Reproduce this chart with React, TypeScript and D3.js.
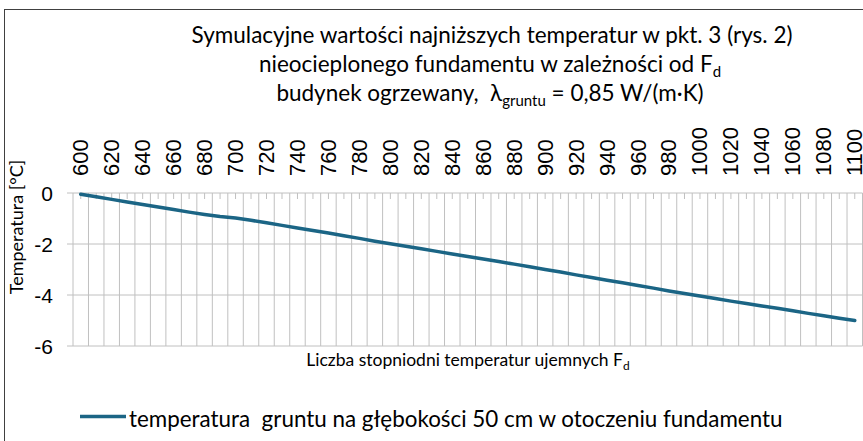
import * as d3 from 'd3';
import React from 'react';

// Fd categories (step 10) and simulated lowest ground temperature [°C]
const fdCategories = [
  600, 610, 620, 630, 640, 650, 660, 670, 680, 690, 700, 710, 720, 730, 740, 750, 760,
  770, 780, 790, 800, 810, 820, 830, 840, 850, 860, 870, 880, 890, 900, 910, 920, 930,
  940, 950, 960, 970, 980, 990, 1000, 1010, 1020, 1030, 1040, 1050, 1060, 1070, 1080,
  1090, 1100,
];
const groundTemps = [
  -0.05, -0.15, -0.25, -0.35, -0.45, -0.55, -0.65, -0.75, -0.84, -0.92, -0.98, -1.07,
  -1.17, -1.27, -1.37, -1.47, -1.57, -1.68, -1.78, -1.89, -1.99, -2.09, -2.19, -2.29,
  -2.39, -2.49, -2.59, -2.69, -2.79, -2.89, -3.0, -3.1, -3.21, -3.31, -3.42, -3.52,
  -3.63, -3.73, -3.84, -3.94, -4.04, -4.14, -4.24, -4.33, -4.43, -4.52, -4.62, -4.72,
  -4.81, -4.91, -5.0,
];
const fdTickLabels = [
  600, 620, 640, 660, 680, 700, 720, 740, 760, 780, 800, 820, 840, 860, 880, 900, 920,
  940, 960, 980, 1000, 1020, 1040, 1060, 1080, 1100,
];
const tempTicks = [0, -2, -4, -6];

const seriesName = 'temperatura  gruntu na głębokości 50 cm w otoczeniu fundamentu';

const W = 863;
const H = 441;
const plot = { left: 73, right: 862.5, top: 193, bottom: 346 };
const lineColor = '#1b6585';
const gridColor = '#c0c0c0';
const labelFont = '"Liberation Sans", Arial, sans-serif';
const titleFont = 'Lato, "Open Sans", sans-serif';

export default function App() {
  const x = d3.scaleBand<number>().domain(fdCategories).range([plot.left, plot.right]);
  const y = d3.scaleLinear().domain([-6, 0]).range([plot.bottom, plot.top]);
  const cx = (c: number) => (x(c) as number) + x.bandwidth() / 2;

  const line = d3
    .line<number>()
    .x((_, i) => cx(fdCategories[i]))
    .y(d => y(d));

  const boundaries = fdCategories.map(c => x(c) as number).concat([plot.right]);

  return (
    <svg
      width={W}
      height={H}
      style={{ position: 'absolute', left: 0, top: 0, background: '#fff' }}
    >
      <rect x={0} y={0} width={W} height={H} fill="#fff" />
      <rect x={4.5} y={9.5} width={900} height={500} fill="none" stroke="#404040" />

      {/* title */}
      <g fontFamily={titleFont} fontSize={22.5} fill="#000" textAnchor="middle">
        <text x={492} y={43}>
          Symulacyjne wartości najniższych temperatur w pkt. 3 (rys. 2)
        </text>
        <text x={490} y={72}>
          nieocieplonego fundamentu w zależności od F
          <tspan fontSize={15} dy={5}>d</tspan>
        </text>
        <text x={490} y={101} style={{ whiteSpace: 'pre' }}>
          {'budynek ogrzewany,  λ'}
          <tspan fontSize={15} dy={5}>gruntu</tspan>
          <tspan dy={-5}>{' = 0,85 W/(m·K)'}</tspan>
        </text>
      </g>

      {/* horizontal gridlines */}
      {tempTicks.map(t => (
        <line
          key={'h' + t}
          x1={67}
          x2={plot.right}
          y1={y(t)}
          y2={y(t)}
          stroke={gridColor}
          strokeWidth={1}
        />
      ))}

      {/* vertical gridlines at category boundaries */}
      {boundaries.map((bx, i) => (
        <line
          key={'v' + i}
          x1={bx}
          x2={bx}
          y1={plot.top}
          y2={plot.bottom}
          stroke={gridColor}
          strokeWidth={1}
        />
      ))}

      {/* small ticks at category centres */}
      {fdCategories.map(c => (
        <line
          key={'t' + c}
          x1={cx(c)}
          x2={cx(c)}
          y1={plot.top}
          y2={plot.top + 6}
          stroke={gridColor}
          strokeWidth={1}
        />
      ))}

      {/* y tick labels */}
      <g fontFamily={labelFont} fontSize={21} fill="#000" textAnchor="end">
        {tempTicks.map(t => (
          <text key={'yl' + t} x={53} y={y(t)} dominantBaseline="central">
            {t}
          </text>
        ))}
      </g>

      {/* x tick labels, rotated */}
      <g fontFamily={labelFont} fontSize={22} fill="#000">
        {fdTickLabels.map(v => (
          <text
            key={'xl' + v}
            transform={`translate(${cx(v)},176) rotate(-90)`}
            dominantBaseline="central"
          >
            {v}
          </text>
        ))}
      </g>

      {/* axis titles */}
      <text
        transform={`translate(16,227) rotate(-90)`}
        fontFamily={titleFont}
        fontSize={18}
        textAnchor="middle"
        dominantBaseline="central"
      >
        Temperatura [°C]
      </text>
      <text x={468} y={366} fontFamily={titleFont} fontSize={17.5} textAnchor="middle">
        Liczba stopniodni temperatur ujemnych F
        <tspan fontSize={12} dy={4}>d</tspan>
      </text>

      {/* series */}
      <path
        d={line(groundTemps) || ''}
        fill="none"
        stroke={lineColor}
        strokeWidth={3.5}
        strokeLinecap="round"
        strokeLinejoin="round"
      />

      {/* legend */}
      <line x1={80} x2={126} y1={416.5} y2={416.5} stroke={lineColor} strokeWidth={3.5} />
      <text
        x={129}
        y={427}
        fontFamily={titleFont}
        fontSize={22.4}
        fill="#000"
        style={{ whiteSpace: 'pre' }}
      >
        {seriesName}
      </text>
    </svg>
  );
}
